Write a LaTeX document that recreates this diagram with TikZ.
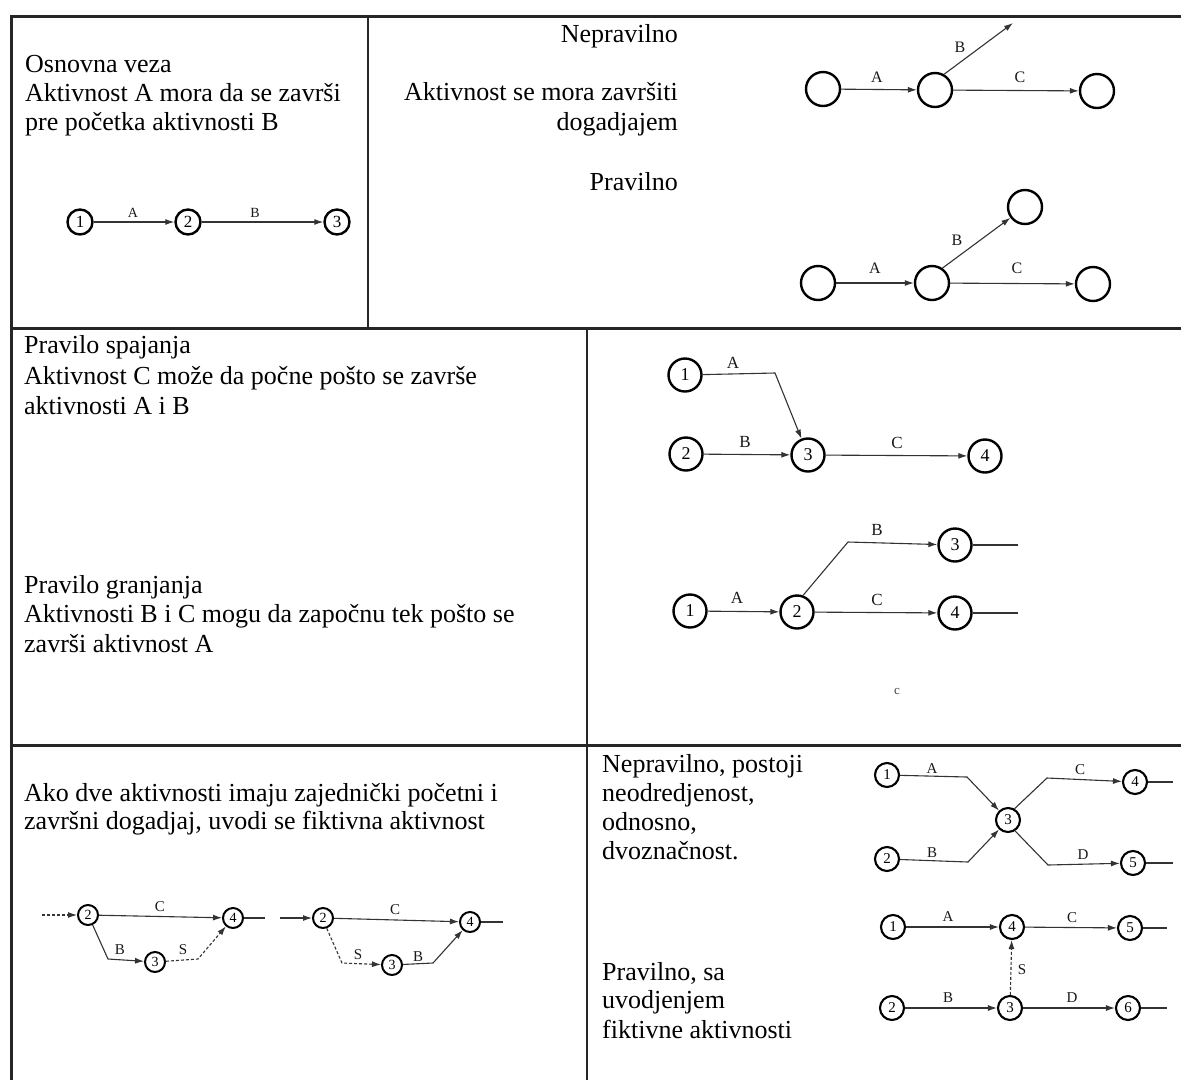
\documentclass[tikz,border=0pt]{standalone}
\usepackage{fontspec}
\setmainfont{Liberation Serif}
\usetikzlibrary{arrows.meta}
\tikzset{
  txt/.style={inner sep=0pt, font=\fontsize{26}{30}\selectfont, text=black},
  ev/.style={circle, draw=black, line width=2.4pt, inner sep=0pt, minimum size=#1},
  ev/.default=26pt,
  lab/.style={inner sep=0pt, text=black!90},
  act/.style={draw=black!80, line width=1.1pt, -{Latex[length=9pt,width=6pt]}},
  fict/.style={act, dash pattern=on 3pt off 2pt},
  plain/.style={draw=black!80, line width=1.1pt},
  rule/.style={draw=black!85, line width=3pt},
  thinrule/.style={draw=black!85, line width=1.8pt}
}
\begin{document}
\begin{tikzpicture}[x=1pt,y=-1pt]
\useasboundingbox (0,0) rectangle (1181,1080);
\fill[white] (0,0) rectangle (1181,1080);

% ---------- table rules ----------
\draw[rule] (11,1080) -- (11,16) -- (1181,16);
\draw[rule] (11,328) -- (1181,328);
\draw[rule] (11,745) -- (1181,745);
\draw[thinrule] (368,16) -- (368,328);
\draw[thinrule] (587,328) -- (587,1080);

% ---------- cell 1 ----------
\node[txt, anchor=base west] (t1a) at (25,72) {Osnovna veza};
\node[txt, anchor=base west] (t1b) at (25,101) {Aktivnost A mora da se završi};
\node[txt, anchor=base west] (t1c) at (25,130) {pre početka aktivnosti B};

\begin{scope}[every node/.append style={font=\fontsize{17}{17}\selectfont}]
\node[ev=25pt] (a1) at (80,222) {1};
\node[ev=25pt] (a2) at (188,222) {2};
\node[ev=25pt] (a3) at (337,222) {3};
\end{scope}
\draw[act] (a1) -- (a2);
\draw[act] (a2) -- (a3);
\node[lab, font=\fontsize{14}{14}\selectfont] (la1) at (133,213) {A};
\node[lab, font=\fontsize{14}{14}\selectfont] (la2) at (255,213) {B};

% ---------- cell 2 ----------
\node[txt, anchor=base east] (t2a) at (678,42) {Nepravilno};
\node[txt, anchor=base east] (t2b) at (678,100) {Aktivnost se mora završiti};
\node[txt, anchor=base east] (t2c) at (678,130) {dogadjajem};
\node[txt, anchor=base east] (t2d) at (678,190) {Pravilno};

\node[ev=34pt] (q1) at (823,89) {};
\node[ev=34pt] (q2) at (935,90) {};
\node[ev=34pt] (q3) at (1097,91) {};
\coordinate (qB) at (1013,23);
\draw[act] (q1) -- (q2);
\draw[act] (q2.60) -- (qB);
\draw[act] (q2) -- (q3);
\begin{scope}[every node/.append style={font=\fontsize{16}{16}\selectfont}]
\node[lab] (lq1) at (877,77) {A};
\node[lab] (lq2) at (960,47) {B};
\node[lab] (lq3) at (1020,77) {C};
\end{scope}

\node[ev=34pt] (p1) at (818,283) {};
\node[ev=34pt] (p2) at (932,283) {};
\node[ev=34pt] (p4) at (1025,207) {};
\node[ev=34pt] (p3) at (1093,284) {};
\draw[act] (p1) -- (p2);
\draw[act] (p2.55) -- (p4);
\draw[act] (p2) -- (p3);
\begin{scope}[every node/.append style={font=\fontsize{16}{16}\selectfont}]
\node[lab] (lp1) at (875,268) {A};
\node[lab] (lp2) at (957,240) {B};
\node[lab] (lp3) at (1017,268) {C};
\end{scope}

% ---------- cell 3 ----------
\node[txt, anchor=base west] (t3a) at (24,353) {Pravilo spajanja};
\node[txt, anchor=base west] (t3b) at (24,384) {Aktivnost C može da počne pošto se završe};
\node[txt, anchor=base west] (t3c) at (24,414) {aktivnosti A i B};
\node[txt, anchor=base west] (t3d) at (24,593) {Pravilo granjanja};
\node[txt, anchor=base west] (t3e) at (24,622) {Aktivnosti B i C mogu da započnu tek pošto se};
\node[txt, anchor=base west] (t3f) at (24,652) {završi aktivnost A};

% ---------- cell 4 ----------
\begin{scope}[every node/.append style={font=\fontsize{18}{18}\selectfont}]
\node[ev=33pt] (m1) at (685,375) {1};
\node[ev=33pt] (m2) at (686,454) {2};
\node[ev=33pt] (m3) at (808,455) {3};
\node[ev=33pt] (m4) at (985,456) {4};
\node[ev=33pt] (n1) at (690,611) {1};
\node[ev=33pt] (n2) at (797,612) {2};
\node[ev=33pt] (n3) at (955,545) {3};
\node[ev=33pt] (n4) at (955,613) {4};
\end{scope}
\coordinate (mA) at (775,373);
\draw[act] (m1) -- (mA) -- (m3);
\draw[act] (m2) -- (m3);
\draw[act] (m3) -- (m4);
\coordinate (nB) at (848,542);
\coordinate (nE3) at (1018,545);
\coordinate (nE4) at (1018,613);
\draw[act] (n1) -- (n2);
\draw[act] (n2.70) -- (nB) -- (n3);
\draw[act] (n2) -- (n4);
\draw[plain] (n3) -- (nE3);
\draw[plain] (n4) -- (nE4);
\begin{scope}[every node/.append style={font=\fontsize{17}{17}\selectfont}]
\node[lab] (lm1) at (733,363) {A};
\node[lab] (lm2) at (745,442) {B};
\node[lab] (lm3) at (897,443) {C};
\node[lab] (ln1) at (737,598) {A};
\node[lab] (ln2) at (877,530) {B};
\node[lab] (ln3) at (877,600) {C};
\end{scope}
\node[lab, font=\fontsize{13}{13}\selectfont, text=black!75] (stray) at (897,691) {c};

% ---------- cell 5 ----------
\node[txt, anchor=base west] (t5a) at (24,801) {Ako dve aktivnosti imaju zajednički početni i};
\node[txt, anchor=base west] (t5b) at (24,829) {završni dogadjaj, uvodi se fiktivna aktivnost};

\begin{scope}[every node/.append style={font=\fontsize{14}{14}\selectfont}]
\node[ev=20pt, line width=2pt] (f2) at (88,915) {2};
\node[ev=20pt, line width=2pt] (f4) at (233,918) {4};
\node[ev=20pt, line width=2pt] (f3) at (155,962) {3};
\node[ev=20pt, line width=2pt] (g2) at (323,918) {2};
\node[ev=20pt, line width=2pt] (g4) at (470,922) {4};
\node[ev=20pt, line width=2pt] (g3) at (392,965) {3};
\end{scope}
\coordinate (fIn) at (42,915);
\coordinate (fOut) at (265,918);
\coordinate (fB) at (108,959);
\coordinate (fS) at (198,959);
\draw[fict] (fIn) -- (f2);
\draw[act] (f2) -- (f4);
\draw[act] (f2.-65) -- (fB) -- (f3);
\draw[fict] (f3) -- (fS) -- (f4);
\draw[plain] (f4) -- (fOut);
\coordinate (gIn) at (280,918);
\coordinate (gOut) at (503,922);
\coordinate (gS) at (342,963);
\coordinate (gB) at (433,963);
\draw[act] (gIn) -- (g2);
\draw[act] (g2) -- (g4);
\draw[fict] (g2.-70) -- (gS) -- (g3);
\draw[act] (g3) -- (gB) -- (g4);
\draw[plain] (g4) -- (gOut);
\begin{scope}[every node/.append style={font=\fontsize{15}{15}\selectfont}]
\node[lab] (lf1) at (160,907) {C};
\node[lab] (lf2) at (120,950) {B};
\node[lab] (lf3) at (183,950) {S};
\node[lab] (lg1) at (395,910) {C};
\node[lab] (lg2) at (358,955) {S};
\node[lab] (lg3) at (418,957) {B};
\end{scope}

% ---------- cell 6 ----------
\node[txt, anchor=base west] (t6a) at (602,772) {Nepravilno, postoji};
\node[txt, anchor=base west] (t6b) at (602,801) {neodredjenost,};
\node[txt, anchor=base west] (t6c) at (602,830) {odnosno,};
\node[txt, anchor=base west] (t6d) at (602,859) {dvoznačnost.};
\node[txt, anchor=base west] (t6e) at (602,980) {Pravilno, sa};
\node[txt, anchor=base west] (t6f) at (602,1008) {uvodjenjem};
\node[txt, anchor=base west] (t6g) at (602,1038) {fiktivne aktivnosti};

\begin{scope}[every node/.append style={font=\fontsize{15}{15}\selectfont}]
\node[ev=24pt, line width=2.1pt] (h1) at (887,775) {1};
\node[ev=24pt, line width=2.1pt] (h2) at (887,859) {2};
\node[ev=24pt, line width=2.1pt] (h3) at (1008,820) {3};
\node[ev=24pt, line width=2.1pt] (h4) at (1135,782) {4};
\node[ev=24pt, line width=2.1pt] (h5) at (1133,863) {5};
\node[ev=24pt, line width=2.1pt] (k1) at (893,927) {1};
\node[ev=24pt, line width=2.1pt] (k4) at (1012,927) {4};
\node[ev=24pt, line width=2.1pt] (k5) at (1130,928) {5};
\node[ev=24pt, line width=2.1pt] (k2) at (892,1008) {2};
\node[ev=24pt, line width=2.1pt] (k3) at (1010,1008) {3};
\node[ev=24pt, line width=2.1pt] (k6) at (1128,1008) {6};
\end{scope}
\coordinate (hA) at (967,777);
\coordinate (hB) at (968,862);
\coordinate (hC) at (1047,778);
\coordinate (hD) at (1048,865);
\coordinate (hO4) at (1173,782);
\coordinate (hO5) at (1173,863);
\draw[act] (h1) -- (hA) -- (h3);
\draw[act] (h2) -- (hB) -- (h3);
\draw[act] (h3.60) -- (hC) -- (h4);
\draw[act] (h3.-57) -- (hD) -- (h5);
\draw[plain] (h4) -- (hO4);
\draw[plain] (h5) -- (hO5);
\coordinate (kO5) at (1167,928);
\coordinate (kO6) at (1167,1008);
\draw[act] (k1) -- (k4);
\draw[act] (k4) -- (k5);
\draw[act] (k2) -- (k3);
\draw[act] (k3) -- (k6);
\draw[fict] (k3) -- (k4);
\draw[plain] (k5) -- (kO5);
\draw[plain] (k6) -- (kO6);
\begin{scope}[every node/.append style={font=\fontsize{15}{15}\selectfont}]
\node[lab] (lh1) at (932,769) {A};
\node[lab] (lh2) at (932,853) {B};
\node[lab] (lh3) at (1080,770) {C};
\node[lab] (lh4) at (1083,855) {D};
\node[lab] (lk1) at (948,917) {A};
\node[lab] (lk2) at (1072,918) {C};
\node[lab] (lk3) at (948,998) {B};
\node[lab] (lk4) at (1072,998) {D};
\node[lab] (lk5) at (1022,970) {S};
\end{scope}
\end{tikzpicture}
\end{document}
